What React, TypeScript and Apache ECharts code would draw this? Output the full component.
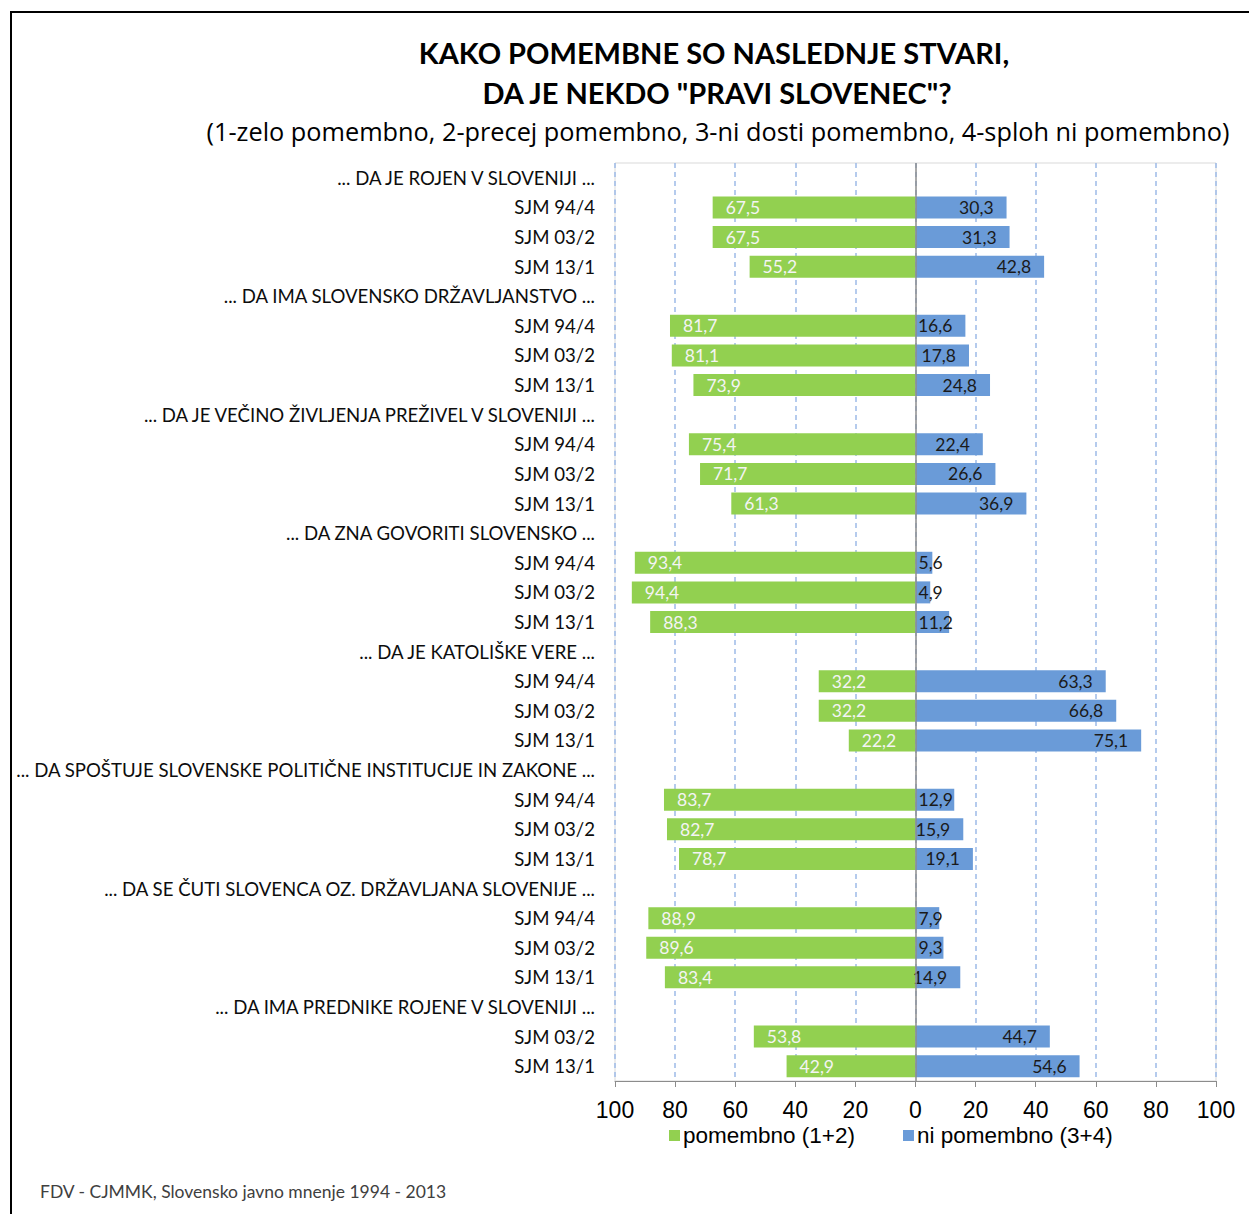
import React, { useEffect, useRef } from "react";
import * as echarts from "echarts";

const groupTitles = [
  "... DA JE ROJEN V SLOVENIJI ...",
  "... DA IMA SLOVENSKO DRŽAVLJANSTVO ...",
  "... DA JE VEČINO ŽIVLJENJA PREŽIVEL V SLOVENIJI ...",
  "... DA ZNA GOVORITI SLOVENSKO ...",
  "... DA JE KATOLIŠKE VERE ...",
  "... DA SPOŠTUJE SLOVENSKE POLITIČNE INSTITUCIJE IN ZAKONE ...",
  "... DA SE ČUTI SLOVENCA OZ. DRŽAVLJANA SLOVENIJE ...",
  "... DA IMA PREDNIKE ROJENE V SLOVENIJI ...",
];

const surveys = [
  ["SJM 94/4", "SJM 03/2", "SJM 13/1"],
  ["SJM 94/4", "SJM 03/2", "SJM 13/1"],
  ["SJM 94/4", "SJM 03/2", "SJM 13/1"],
  ["SJM 94/4", "SJM 03/2", "SJM 13/1"],
  ["SJM 94/4", "SJM 03/2", "SJM 13/1"],
  ["SJM 94/4", "SJM 03/2", "SJM 13/1"],
  ["SJM 94/4", "SJM 03/2", "SJM 13/1"],
  ["SJM 03/2", "SJM 13/1"],
];

const important = [
  [67.5, 67.5, 55.2],
  [81.7, 81.1, 73.9],
  [75.4, 71.7, 61.3],
  [93.4, 94.4, 88.3],
  [32.2, 32.2, 22.2],
  [83.7, 82.7, 78.7],
  [88.9, 89.6, 83.4],
  [53.8, 42.9],
];

const notImportant = [
  [30.3, 31.3, 42.8],
  [16.6, 17.8, 24.8],
  [22.4, 26.6, 36.9],
  [5.6, 4.9, 11.2],
  [63.3, 66.8, 75.1],
  [12.9, 15.9, 19.1],
  [7.9, 9.3, 14.9],
  [44.7, 54.6],
];

const xTicks = [-100, -80, -60, -40, -20, 0, 20, 40, 60, 80, 100];

const seriesNames = ["pomembno (1+2)", "ni pomembno (3+4)"];

const fmt = (v: number) => Math.abs(v).toFixed(1).replace(".", ",");

export default function App() {
  const ref = useRef<HTMLDivElement>(null);

  useEffect(() => {
    if (!ref.current) return;
    const chart = echarts.init(ref.current, undefined, { renderer: "svg" });

    const labels: string[] = [];
    const green: any[] = [];
    const blue: any[] = [];
    groupTitles.forEach((t, g) => {
      labels.push(t);
      green.push("-");
      blue.push("-");
      surveys[g].forEach((s, i) => {
        labels.push(s);
        green.push(-important[g][i]);
        const b = notImportant[g][i];
        blue.push(
          b < 13
            ? { value: b, label: { position: "insideLeft", distance: 3 } }
            : b
        );
      });
    });
    const cats = labels.map((_, i) => String(i));

    const labelFont = "Lato, 'Open Sans', sans-serif";

    chart.setOption({
      animation: false,
      backgroundColor: "#ffffff",
      graphic: [
        {
          type: "rect",
          shape: { x: 11, y: 12, width: 1300, height: 1300 },
          style: { fill: "none", stroke: "#000", lineWidth: 2 },
          silent: true,
        },
        {
          type: "text",
          x: 714,
          y: 52,
          style: {
            text: "KAKO POMEMBNE SO NASLEDNJE STVARI,",
            font: "bold 29px Lato, 'Open Sans', sans-serif",
            fill: "#000",
            textAlign: "center",
            textVerticalAlign: "middle",
          },
        },
        {
          type: "text",
          x: 717,
          y: 92,
          style: {
            text: 'DA JE NEKDO "PRAVI SLOVENEC"?',
            font: "bold 29px Lato, 'Open Sans', sans-serif",
            fill: "#000",
            textAlign: "center",
            textVerticalAlign: "middle",
          },
        },
        {
          type: "text",
          x: 718,
          y: 131,
          style: {
            text: "(1-zelo pomembno, 2-precej pomembno, 3-ni dosti pomembno, 4-sploh ni pomembno)",
            font: "25.3px 'Open Sans', sans-serif",
            fill: "#000",
            textAlign: "center",
            textVerticalAlign: "middle",
          },
        },
        {
          type: "text",
          x: 40,
          y: 1191,
          style: {
            text: "FDV - CJMMK, Slovensko javno mnenje 1994 - 2013",
            font: "17.5px Lato, 'Open Sans', sans-serif",
            fill: "#404040",
            textAlign: "left",
            textVerticalAlign: "middle",
          },
        },
      ],
      legend: {
        data: seriesNames,
        left: 664,
        top: 1119,
        icon: "rect",
        itemWidth: 11,
        itemHeight: 11,
        itemGap: 48,
        textStyle: {
          fontFamily: "'Liberation Sans', Arial, sans-serif",
          fontSize: 22.5,
          color: "#000",
          padding: [0, 0, 0, -2],
        },
      },
      grid: {
        left: 615,
        right: 33,
        top: 163,
        bottom: 133,
        show: true,
        borderColor: "#d9d9d9",
        borderWidth: 1,
      },
      xAxis: {
        type: "value",
        min: -100,
        max: 100,
        interval: 20,
        axisLine: { show: true, lineStyle: { color: "#8c8c8c", width: 1 } },
        axisTick: { show: true, length: 6, lineStyle: { color: "#8c8c8c" } },
        axisLabel: {
          formatter: (v: number) =>
            xTicks.includes(v) ? String(Math.abs(v)) : "",
          fontFamily: "'Liberation Sans', Arial, sans-serif",
          fontSize: 23,
          color: "#000",
          margin: 17,
        },
        splitLine: {
          show: true,
          lineStyle: { color: "#9dbbe8", type: [5, 4], width: 1.5 },
        },
      },
      yAxis: {
        type: "category",
        inverse: true,
        data: cats,
        axisLine: { show: false, onZero: false },
        axisTick: { show: false },
        axisLabel: {
          formatter: (v: string) => labels[Number(v)],
          fontFamily: labelFont,
          fontSize: 18.6,
          color: "#0d0d0d",
          margin: 20,
          interval: 0,
        },
        splitLine: { show: false },
      },
      series: [
        {
          name: seriesNames[0],
          type: "bar",
          stack: "total",
          data: green,
          barWidth: 22,
          itemStyle: { color: "#92d050" },
          label: {
            show: true,
            position: "insideLeft",
            distance: 13,
            formatter: (p: any) => fmt(p.value),
            fontFamily: labelFont,
            fontSize: 17.5,
            color: "#f4f4f4",
          },
        },
        {
          name: seriesNames[1],
          type: "bar",
          stack: "total",
          data: blue,
          barWidth: 22,
          itemStyle: { color: "#6a9bd8" },
          label: {
            show: true,
            position: "insideRight",
            distance: 13,
            formatter: (p: any) => fmt(p.value),
            fontFamily: labelFont,
            fontSize: 17.5,
            color: "#1a1a1a",
          },
          markLine: {
            silent: true,
            symbol: "none",
            label: { show: false },
            lineStyle: { color: "#8c8c8c", type: "solid", width: 1.5 },
            data: [{ xAxis: 0 }],
          },
        },
      ],
    });

    return () => chart.dispose();
  }, []);

  return (
    <div
      ref={ref}
      style={{ position: "absolute", left: 0, top: 0, width: 1249, height: 1214 }}
    />
  );
}
